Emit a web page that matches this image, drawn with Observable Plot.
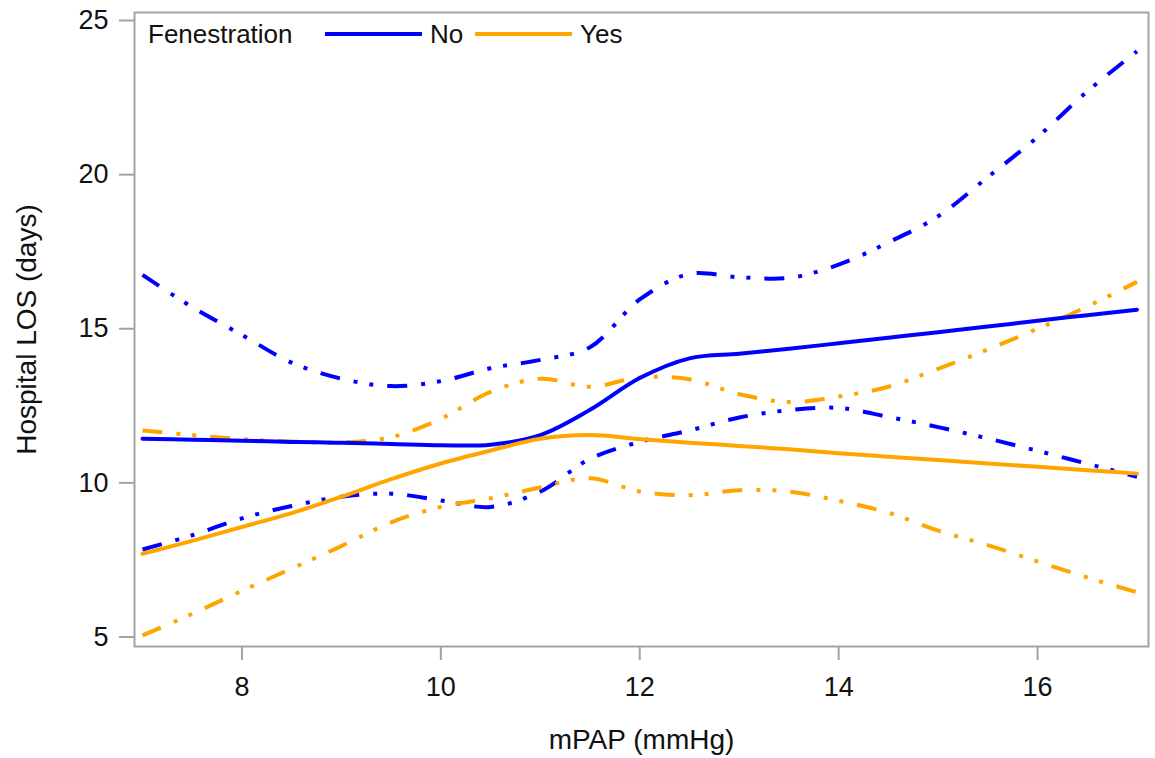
<!DOCTYPE html>
<html>
<head>
<meta charset="utf-8">
<script src="https://cdn.jsdelivr.net/npm/d3@7"></script>
<script src="https://cdn.jsdelivr.net/npm/@observablehq/plot@0.6"></script>
<style>
  html, body { margin: 0; padding: 0; background: #fff; }
  #wrap { position: relative; width: 1155px; height: 758px; font-family: "Liberation Sans", Arial, sans-serif; }
  .lg { position: absolute; font-size: 26px; line-height: 26px; color: #111; transform: translateY(-50%); white-space: nowrap; }
  .sw { position: absolute; height: 0; border-top: 4px solid; transform: translateY(-50%); }
</style>
</head>
<body>
<div id="wrap"></div>
<script>
// mPAP (mmHg) grid
const mpap = [7, 7.5, 8, 8.5, 9, 9.5, 10, 10.5, 11, 11.5, 12, 12.5, 13, 13.5, 14, 14.5, 15, 15.5, 16, 16.5, 17];
// Fenestration = No
const noEst   = [11.43, 11.40, 11.37, 11.33, 11.30, 11.26, 11.22, 11.24, 11.55, 12.37, 13.40, 14.04, 14.19, 14.35, 14.53, 14.71, 14.89, 15.07, 15.26, 15.44, 15.62];
const noUpper = [16.75, 15.70, 14.80, 13.90, 13.38, 13.14, 13.30, 13.72, 13.99, 14.40, 15.95, 16.78, 16.67, 16.65, 17.08, 17.80, 18.65, 19.92, 21.22, 22.70, 24.00];
const noLower = [7.84, 8.30, 8.85, 9.25, 9.55, 9.65, 9.43, 9.22, 9.72, 10.78, 11.33, 11.70, 12.12, 12.36, 12.43, 12.14, 11.81, 11.44, 11.04, 10.62, 10.20];
// Fenestration = Yes
const yesEst   = [7.70, 8.12, 8.57, 9.02, 9.55, 10.12, 10.63, 11.05, 11.43, 11.55, 11.42, 11.30, 11.20, 11.09, 10.96, 10.85, 10.74, 10.63, 10.52, 10.41, 10.30];
const yesUpper = [11.70, 11.55, 11.42, 11.34, 11.31, 11.48, 12.08, 12.95, 13.38, 13.12, 13.42, 13.36, 12.88, 12.62, 12.80, 13.12, 13.70, 14.33, 15.00, 15.72, 16.52];
const yesLower = [5.05, 5.75, 6.50, 7.22, 7.95, 8.72, 9.22, 9.50, 9.85, 10.15, 9.72, 9.60, 9.76, 9.72, 9.42, 9.03, 8.45, 7.98, 7.45, 6.93, 6.45];

const xTicks = [8, 10, 12, 14, 16];
const yTicks = [5, 10, 15, 20, 25];
const groups = ["No", "Yes"];
const colors = ["#0000ff", "#ffa500"];
const xLabel = "mPAP (mmHg)";
const yLabel = "Hospital LOS (days)";
const legendTitle = "Fenestration";

function rows(vals, group, band) {
  return vals.map((v, i) => ({x: mpap[i], y: v, group, band}));
}
const estRows = [...rows(noEst, "No", "est"), ...rows(yesEst, "Yes", "est")];
const ciRows = [
  ...rows(noUpper, "No", "upper"), ...rows(noLower, "No", "lower"),
  ...rows(yesUpper, "Yes", "upper"), ...rows(yesLower, "Yes", "lower")
];

const gray = "#a3a3a3";
const chart = Plot.plot({
  width: 1155,
  height: 758,
  marginLeft: 134,
  marginRight: 7,
  marginTop: 12,
  marginBottom: 112,
  style: {fontFamily: "'Liberation Sans', Arial, sans-serif", fontSize: "27px", color: "#111", background: "#fff"},
  x: {domain: [7, 17], insetLeft: 8, insetRight: 11.5},
  y: {domain: [5, 25], insetTop: 8, insetBottom: 9.5},
  color: {domain: groups, range: colors},
  marks: [
    Plot.axisX({ticks: xTicks, tickSize: 14, tickPadding: 16, stroke: gray, strokeWidth: 2, fill: "#111", label: null, tickFormat: d => String(d)}),
    Plot.axisY({ticks: yTicks, tickSize: 15, tickPadding: 11, stroke: gray, strokeWidth: 2, fill: "#111", label: null, tickFormat: d => String(d)}),
    Plot.frame({stroke: gray, strokeWidth: 2}),
    Plot.line(ciRows, {x: "x", y: "y", z: d => d.group + d.band, stroke: "group", strokeWidth: 4, strokeDasharray: "20,14,4,12,4,14", strokeLinecap: "butt", curve: "catmull-rom"}),
    Plot.line(estRows, {x: "x", y: "y", z: "group", stroke: "group", strokeWidth: 4, curve: "catmull-rom"}),
    Plot.text([xLabel], {frameAnchor: "bottom", textAnchor: "middle", lineAnchor: "bottom", dy: 102, fontSize: 28, fill: "#111"}),
    Plot.text([yLabel], {frameAnchor: "left", textAnchor: "middle", lineAnchor: "middle", dx: -107, rotate: -90, fontSize: 28, fill: "#111"})
  ]
});
const wrap = document.getElementById("wrap");
wrap.appendChild(chart);

// Legend (inside the plot frame, top-left)
function addText(txt, left, top) {
  const el = document.createElement("div");
  el.className = "lg"; el.textContent = txt;
  el.style.left = left + "px"; el.style.top = top + "px";
  wrap.appendChild(el);
}
function addSwatch(color, left, width, top) {
  const el = document.createElement("div");
  el.className = "sw"; el.style.borderTopColor = color;
  el.style.left = left + "px"; el.style.width = width + "px"; el.style.top = top + "px";
  wrap.appendChild(el);
}
addText(legendTitle, 148, 34);
addSwatch(colors[0], 325, 97, 34);
addText(groups[0], 430, 34);
addSwatch(colors[1], 475, 97, 34);
addText(groups[1], 580, 34);
</script>
</body>
</html>
